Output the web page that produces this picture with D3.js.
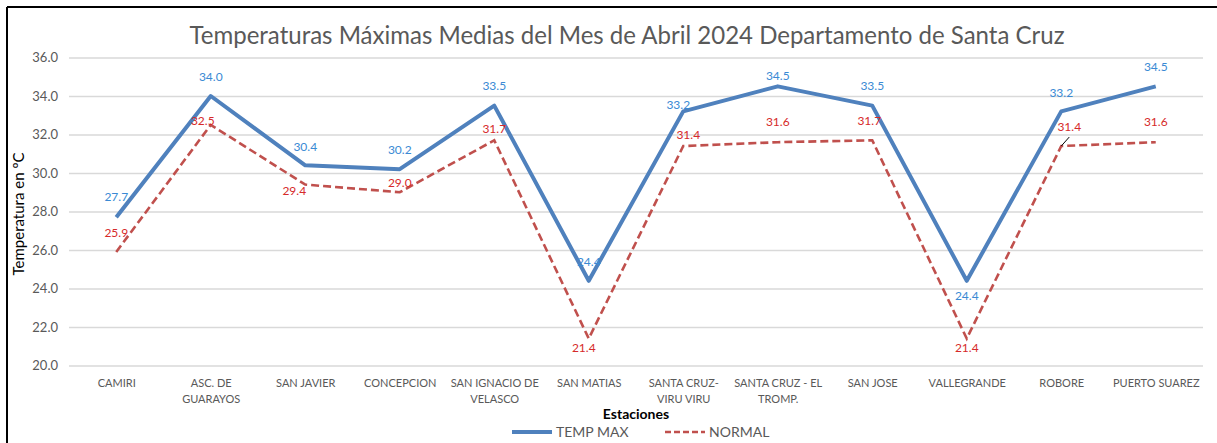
<!DOCTYPE html>
<html><head><meta charset="utf-8">
<script src="https://cdn.jsdelivr.net/npm/d3@7"></script>
<style>body{margin:0;background:#fff;} svg{display:block;font-family:Lato,"Open Sans",sans-serif;}</style>
</head><body>
<svg id="c" width="1217" height="443"></svg>
<script>
const categories = ["CAMIRI","ASC. DE\nGUARAYOS","SAN JAVIER","CONCEPCION","SAN IGNACIO DE\nVELASCO","SAN MATIAS","SANTA CRUZ-\nVIRU VIRU","SANTA CRUZ - EL\nTROMP.","SAN JOSE","VALLEGRANDE","ROBORE","PUERTO SUAREZ"];
const tempMax = [27.7, 34.0, 30.4, 30.2, 33.5, 24.4, 33.2, 34.5, 33.5, 24.4, 33.2, 34.5];
const normal  = [25.9, 32.5, 29.4, 29.0, 31.7, 21.4, 31.4, 31.6, 31.7, 21.4, 31.4, 31.6];
const yTicks = [20, 22, 24, 26, 28, 30, 32, 34, 36];
const seriesNames = ["TEMP MAX", "NORMAL"];
// label placement offsets (px) relative to each point
const maxLabelDx = [0,0,0,0,0,0,-5,0,0,0,0,0];
const maxLabelDy = [-20,-19,-19,-19,-20,-19,-7,-11,-20,15,-19,-20];
const normLabelDx = [0,-8,-11,0,0,-5,5,0,-3,0,8,0];
const normLabelDy = [-19,-4,6,-9,-11,9,-11,-20,-19,9,-19,-20];

const svg = d3.select("#c");
const x = d3.scalePoint().domain(categories).range([69, 1203]).padding(0.5);
const y = d3.scaleLinear().domain([20, 36]).range([365.5, 57.5]);

// border (top and left visible)
svg.append("line").attr("x1",7).attr("x2",1217).attr("y1",7).attr("y2",7).attr("stroke","#000").attr("stroke-width",2);
svg.append("line").attr("x1",7).attr("x2",7).attr("y1",7).attr("y2",443).attr("stroke","#000").attr("stroke-width",2);

// title
svg.append("text").attr("x",627).attr("y",44).attr("text-anchor","middle")
  .attr("font-size",25).attr("fill","#595959")
  .attr("textLength",875).attr("lengthAdjust","spacingAndGlyphs")
  .text("Temperaturas Máximas Medias del Mes de Abril 2024 Departamento de Santa Cruz");

// gridlines
const yAxis = d3.axisLeft(y).tickValues(yTicks).tickSize(-(1203-69)).tickFormat(d3.format(".1f"));
const gy = svg.append("g").attr("transform","translate(69,0)").call(yAxis);
gy.select(".domain").remove();
gy.selectAll(".tick line").attr("stroke","#d9d9d9").attr("stroke-width",1.5);
gy.selectAll(".tick text").attr("x",-11).attr("font-size",13).attr("fill","#595959").attr("font-family","Lato");

// x axis labels
const xAxis = d3.axisBottom(x).tickSize(0).tickFormat("");
const gx = svg.append("g").attr("transform","translate(0,365.5)").call(xAxis);
gx.select(".domain").remove();
gx.selectAll(".tick").each(function(d){
  const lines = d.split("\n");
  const t = d3.select(this).append("text").attr("text-anchor","middle").attr("font-size",11)
    .attr("fill","#595959").attr("font-family","Lato");
  lines.forEach((l,i)=>t.append("tspan").attr("x",0).attr("y",21 + i*16).text(l));
});

// lines
const lineGen = d3.line().x((d,i)=>x(categories[i])).y(d=>y(d));
svg.append("path").datum(normal).attr("d",lineGen).attr("fill","none")
  .attr("stroke","#c0504d").attr("stroke-width",2.6).attr("stroke-dasharray","8,4");
svg.append("path").datum(tempMax).attr("d",lineGen).attr("fill","none")
  .attr("stroke","#4f81bd").attr("stroke-width",4).attr("stroke-linejoin","round");

// leader line (ROBORE normal label)
const ri = 10;
svg.append("line").attr("x1",x(categories[ri])).attr("y1",y(normal[ri]))
  .attr("x2",x(categories[ri])+normLabelDx[ri]).attr("y2",y(normal[ri])+normLabelDy[ri]+10)
  .attr("stroke","#000").attr("stroke-width",1);

// data labels
const fmt = d3.format(".1f");
svg.append("g").selectAll("text").data(tempMax).join("text")
  .attr("x",(d,i)=>x(categories[i])+maxLabelDx[i]).attr("y",(d,i)=>y(d)+maxLabelDy[i])
  .attr("dy","0.35em").attr("text-anchor","middle").attr("font-size",12).attr("fill","#3a8ad4")
  .text(d=>fmt(d));
svg.append("g").selectAll("text").data(normal).join("text")
  .attr("x",(d,i)=>x(categories[i])+normLabelDx[i]).attr("y",(d,i)=>y(d)+normLabelDy[i])
  .attr("dy","0.35em").attr("text-anchor","middle").attr("font-size",12).attr("fill","#d62a2a")
  .text(d=>fmt(d));

// axis titles
svg.append("text").attr("transform","translate(24,214) rotate(-90)").attr("text-anchor","middle")
  .attr("font-size",15).attr("fill","#000").text("Temperatura en ºC");
svg.append("text").attr("x",636).attr("y",419).attr("text-anchor","middle")
  .attr("font-size",14).attr("font-weight","bold").attr("fill","#000").text("Estaciones");

// legend
const lg = svg.append("g");
lg.append("line").attr("x1",512).attr("x2",552).attr("y1",432).attr("y2",432).attr("stroke","#4f81bd").attr("stroke-width",4);
lg.append("text").attr("x",556).attr("y",432).attr("dy","0.35em").attr("font-size",14).attr("fill","#595959").text(seriesNames[0]);
lg.append("line").attr("x1",665).attr("x2",705).attr("y1",432).attr("y2",432).attr("stroke","#c0504d").attr("stroke-width",2.6).attr("stroke-dasharray","6,3");
lg.append("text").attr("x",709).attr("y",432).attr("dy","0.35em").attr("font-size",14).attr("fill","#595959").text(seriesNames[1]);
</script>
</body></html>
